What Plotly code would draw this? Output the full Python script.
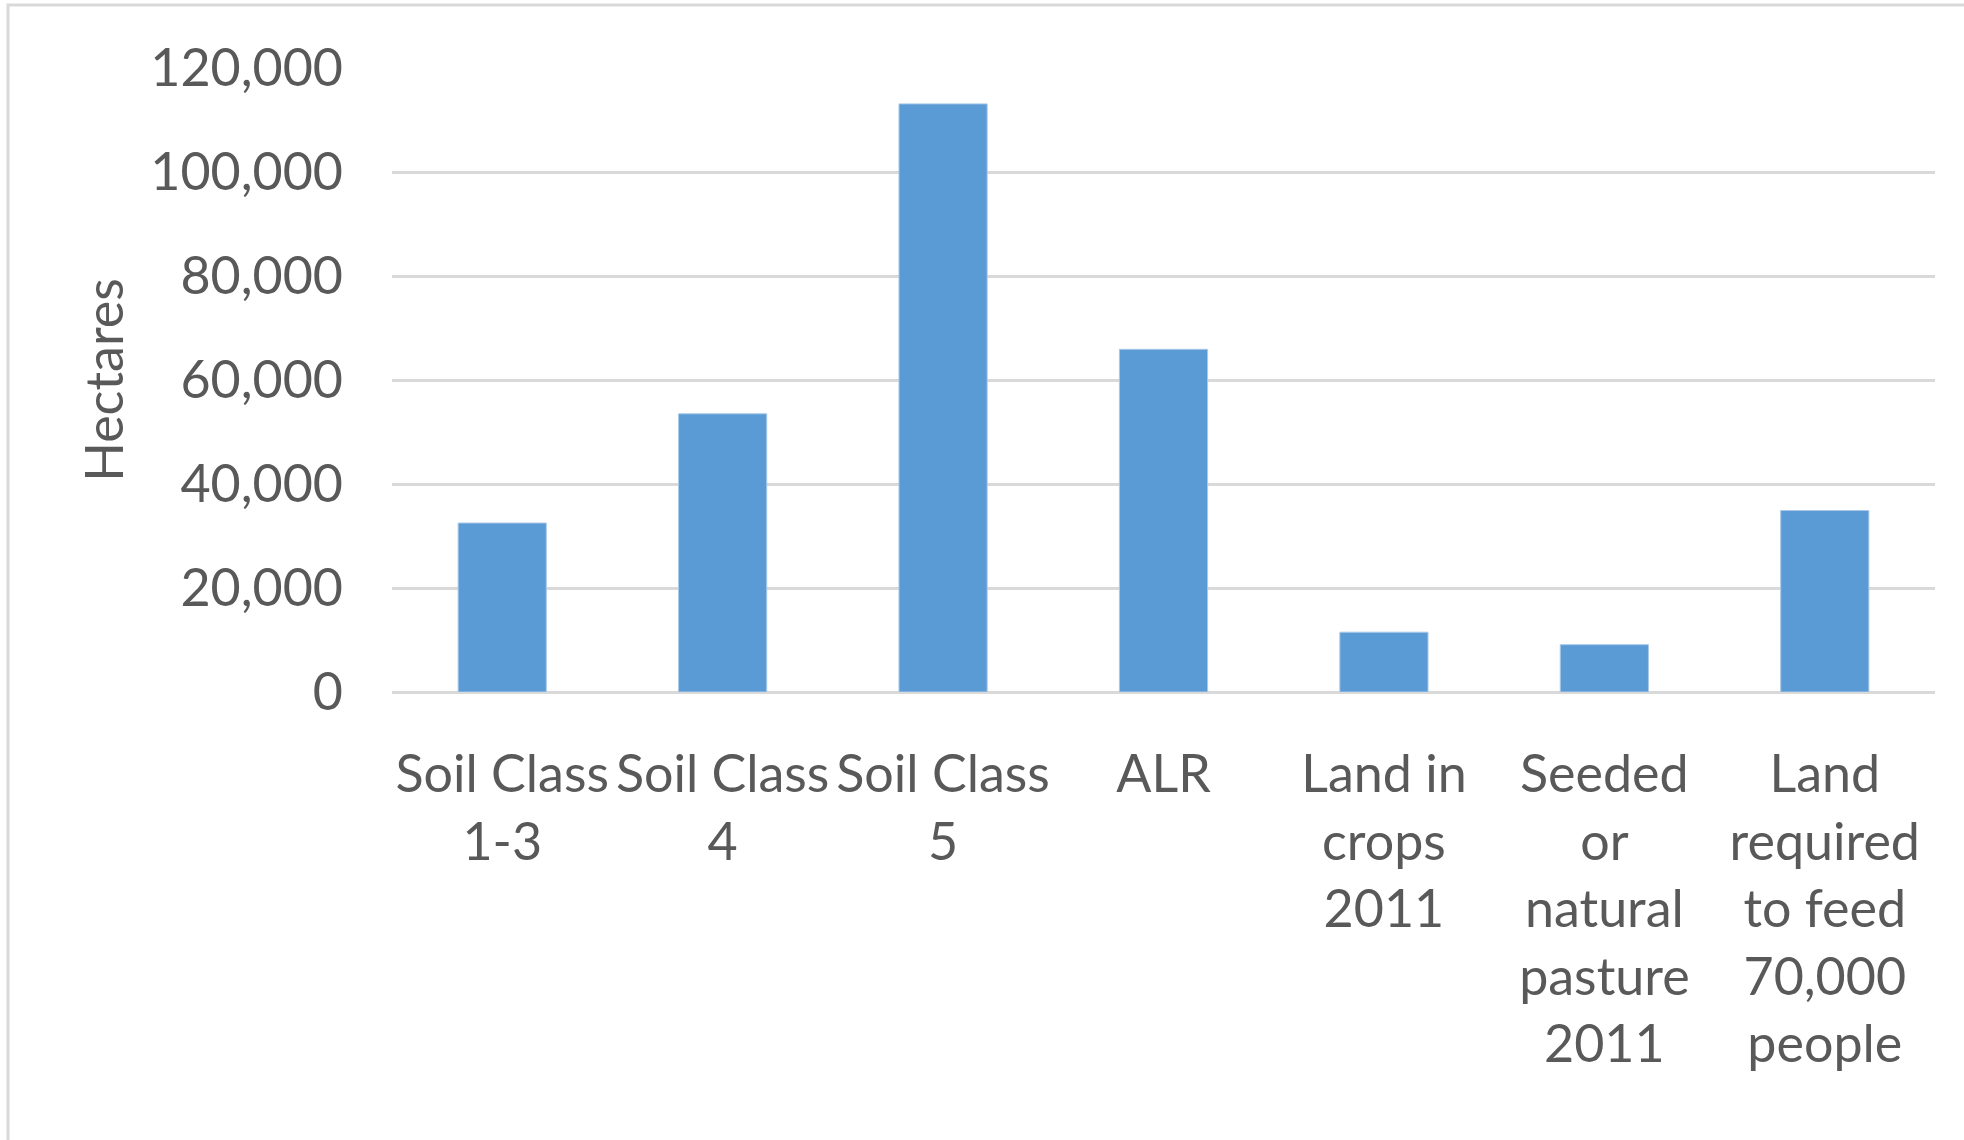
import plotly.graph_objects as go

categories = [
    "Soil Class<br>1-3",
    "Soil Class<br>4",
    "Soil Class<br>5",
    "ALR",
    "Land in<br>crops<br>2011",
    "Seeded<br>or<br>natural<br>pasture<br>2011",
    "Land<br>required<br>to feed<br>70,000<br>people",
]
hectares = [32500, 53500, 113100, 65900, 11500, 9100, 34900]
y_ticks = [0, 20000, 40000, 60000, 80000, 100000, 120000]

W, H = 1964, 1140
L, R, T, B = 392, 29, 68, 448

FONT = "Lato, Open Sans, sans-serif"
GRAY = "#595959"
FS = 52

fig = go.Figure(go.Bar(
    x=categories, y=hectares,
    marker=dict(color="#5b9bd5", line=dict(color="#a9c8e8", width=1)),
))

pw = W - L - R
ph = H - T - B

fig.update_layout(
    width=W, height=H,
    margin=dict(l=L, r=R, t=T, b=B, autoexpand=False),
    paper_bgcolor="white", plot_bgcolor="white",
    bargap=0.6,
    showlegend=False,
    font=dict(family=FONT, color=GRAY, size=FS),
    xaxis=dict(
        showgrid=False, showline=False, zeroline=False, ticks="",
        tickangle=0,
        tickfont=dict(size=FS, family=FONT, color=GRAY),
        ticklabelstandoff=47,
    ),
    yaxis=dict(
        range=[0, 120000], tickvals=y_ticks, tickformat=",",
        showgrid=True, gridcolor="#d9d9d9", gridwidth=3,
        zeroline=True, zerolinecolor="#d9d9d9", zerolinewidth=3,
        showline=False, ticks="",
        tickfont=dict(size=FS, family=FONT, color=GRAY),
        ticklabelstandoff=48,
        title=dict(text="Hectares", font=dict(size=FS, family=FONT, color=GRAY), standoff=10),
    ),
    shapes=[dict(
        type="rect", xref="paper", yref="paper",
        x0=(8 - L) / pw, x1=(W + 20 - L) / pw,
        y0=(H - B - (H + 20)) / ph, y1=(H - B - 5) / ph,
        line=dict(color="#d9d9d9", width=3), fillcolor="rgba(0,0,0,0)",
        layer="below",
    )],
)

fig.write_html(
    "out.html",
    config={"displayModeBar": False},
    post_script="document.body.style.margin='0';document.body.style.overflow='hidden';",
)
